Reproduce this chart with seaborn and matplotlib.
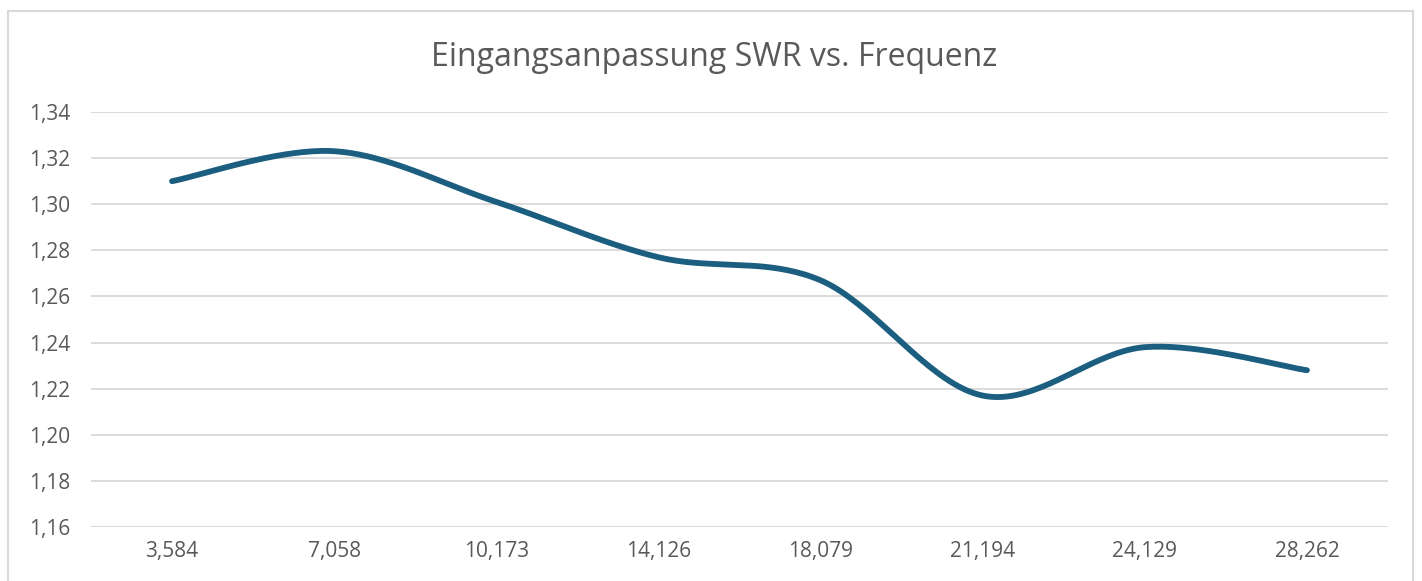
import numpy as np
import pandas as pd
import seaborn as sns
import matplotlib.pyplot as plt
from matplotlib.patches import Rectangle

# frequency labels (MHz) and measured SWR
freq_labels = ['3,584', '7,058', '10,173', '14,126', '18,079', '21,194', '24,129', '28,262']
swr = [1.310, 1.323, 1.301, 1.277, 1.267, 1.217, 1.238, 1.228]
y_ticks = [1.16, 1.18, 1.20, 1.22, 1.24, 1.26, 1.28, 1.30, 1.32, 1.34]


def smooth(x, y, n=40):
    # bezier smoothing like the spreadsheet "smoothed line" option
    x = np.asarray(x, float)
    y = np.asarray(y, float)
    px = np.concatenate([[x[0]], x, [x[-1]]])
    py = np.concatenate([[y[0]], y, [y[-1]]])
    t = np.linspace(0, 1, n)[:, None]
    out_x, out_y = [], []
    for i in range(len(x) - 1):
        p0 = np.array([px[i + 1], py[i + 1]])
        p3 = np.array([px[i + 2], py[i + 2]])
        c1 = p0 + (p3 - np.array([px[i], py[i]])) / 6
        c2 = p3 - (np.array([px[i + 3], py[i + 3]]) - p0) / 6
        seg = (1 - t) ** 3 * p0 + 3 * (1 - t) ** 2 * t * c1 + 3 * (1 - t) * t ** 2 * c2 + t ** 3 * p3
        out_x.extend(seg[:, 0])
        out_y.extend(seg[:, 1])
    return np.array(out_x), np.array(out_y)


sns.set_style('white')
plt.rcParams['font.family'] = ['Open Sans', 'DejaVu Sans']

pos = np.arange(len(freq_labels))
sx, sy = smooth(pos, swr)
df = pd.DataFrame({'x': sx, 'y': sy})

fig = plt.figure(figsize=(14.22, 5.81), dpi=100)
ax = fig.add_axes([91 / 1422, 1 - 527 / 581, 1297 / 1422, 415 / 581])

fig.patches.append(Rectangle((8 / 1422, -0.02), 1405 / 1422, 1 - 11 / 581 + 0.02,
                             transform=fig.transFigure, fill=False,
                             edgecolor='#D9D9D9', linewidth=1.5))

sns.lineplot(data=df, x='x', y='y', ax=ax, color='#1B5E80', linewidth=4.2,
             sort=False, solid_capstyle='round')

ax.set_xlim(-0.5, len(freq_labels) - 0.5)
ax.set_ylim(1.16, 1.34)
ax.set_yticks(y_ticks)
ax.set_yticklabels([f'{v:.2f}'.replace('.', ',') for v in y_ticks])
ax.set_xticks(pos)
ax.set_xticklabels(freq_labels)
ax.tick_params(axis='both', length=0, labelsize=15, colors='#595959')
ax.tick_params(axis='x', pad=10)
ax.tick_params(axis='y', pad=15)
ax.grid(axis='y', color='#D9D9D9', linewidth=1.3)
ax.set_axisbelow(True)
for s in ax.spines.values():
    s.set_visible(False)
ax.set_xlabel('')
ax.set_ylabel('')

fig.text(0.502, 1 - 58 / 581, 'Eingangsanpassung SWR vs. Frequenz', ha='center', va='center',
         fontsize=23, color='#595959')

fig.savefig('out.png', dpi=100)
